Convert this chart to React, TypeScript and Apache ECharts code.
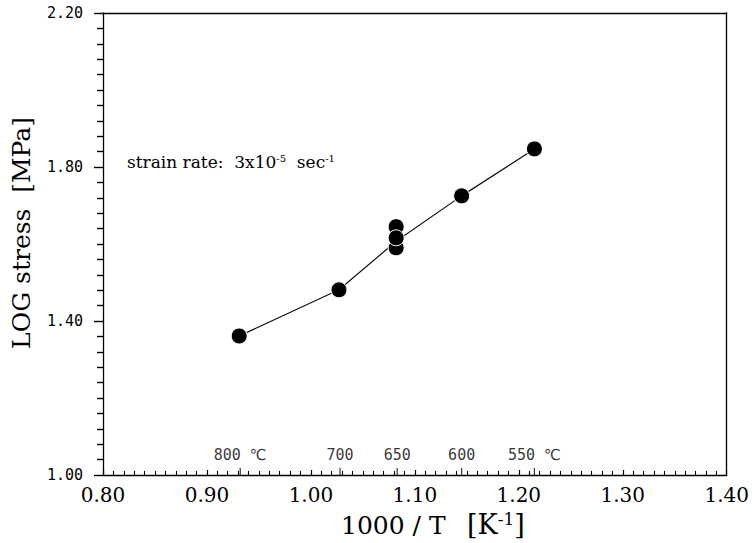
import React, { useEffect, useRef } from 'react';
import * as echarts from 'echarts';

// measured data points (1000/T, log stress)
const pointX = [0.931, 1.027, 1.082, 1.082, 1.082, 1.145, 1.215];
const pointY = [1.361, 1.481, 1.645, 1.59, 1.616, 1.725, 1.847];
// connecting curve vertices
const lineX = [0.931, 1.027, 1.082, 1.145, 1.215];
const lineY = [1.361, 1.481, 1.607, 1.725, 1.847];
// temperature markers along the x axis
const tempX = [0.932, 1.028, 1.083, 1.145, 1.215];
const tempLabels = ['800 ℃', '700', '650', '600', '550 ℃'];

// axis ranges: labelled step and minor tick splits
const X_MIN = 0.8, X_MAX = 1.4, X_STEP = 0.1;
const Y_MIN = 1.0, Y_MAX = 2.2, Y_STEP = 0.4;
const MINOR_SPLITS = 10;

const SERIF = '"DejaVu Serif", "Liberation Serif", serif';
const MONO = '"DejaVu Sans Mono", "Liberation Mono", "DejaVu Sans", monospace';

export default function App() {
  const ref = useRef<HTMLDivElement>(null);
  useEffect(() => {
    if (!ref.current) return;
    const chart = echarts.init(ref.current, undefined, { renderer: 'svg' });
    const border = () => ({ show: true, lineStyle: { color: '#000', width: 1.3 } });
    chart.setOption({
      animation: false,
      backgroundColor: '#fff',
      grid: { left: 103, right: 25, top: 13, bottom: 68 },
      xAxis: [
        {
          type: 'value', min: X_MIN, max: X_MAX, interval: X_STEP,
          axisLine: border(),
          axisTick: { show: true, inside: true, length: 5, lineStyle: { color: '#000', width: 1.2 } },
          minorTick: { show: true, splitNumber: MINOR_SPLITS, length: 4, lineStyle: { color: '#000', width: 1.1 } },
          splitLine: { show: false },
          axisLabel: {
            fontFamily: SERIF, fontSize: 20, color: '#000', margin: 10,
            formatter: (v: number) => v.toFixed(2),
          },
        },
        {
          type: 'value', min: X_MIN, max: X_MAX, position: 'top',
          axisLine: border(), axisTick: { show: false }, axisLabel: { show: false },
          splitLine: { show: false },
        },
      ],
      yAxis: [
        {
          type: 'value', min: Y_MIN, max: Y_MAX, interval: Y_STEP,
          axisLine: border(),
          axisTick: { show: true, length: 9, lineStyle: { color: '#000', width: 1.4 } },
          minorTick: { show: true, splitNumber: MINOR_SPLITS, length: 6, lineStyle: { color: '#000', width: 1.4 } },
          splitLine: { show: false },
          axisLabel: {
            fontFamily: MONO, fontSize: 15, color: '#000', margin: 20,
            formatter: (v: number) => v.toFixed(2),
          },
        },
        {
          type: 'value', min: Y_MIN, max: Y_MAX, position: 'right',
          axisLine: border(), axisTick: { show: false }, axisLabel: { show: false },
          splitLine: { show: false },
        },
      ],
      series: [
        {
          type: 'line',
          data: lineX.map((x, i) => [x, lineY[i]]),
          symbol: 'none',
          lineStyle: { color: '#111', width: 1.2 },
          z: 2,
          silent: true,
        },
        {
          type: 'scatter',
          data: pointX.map((x, i) => [x, pointY[i]]),
          symbol: 'circle',
          symbolSize: 16,
          itemStyle: { color: '#000', borderColor: '#fff', borderWidth: 1, opacity: 1 },
          z: 3,
          silent: true,
        },
        {
          type: 'scatter',
          data: tempX.map((x, i) => ({ name: tempLabels[i], value: [x, Y_MIN] })),
          symbol: 'rect',
          symbolSize: [1.2, 7],
          symbolOffset: [0, -3.5],
          itemStyle: { color: '#000' },
          label: {
            show: true, position: 'top', distance: 6, formatter: '{b}',
            fontFamily: MONO, fontSize: 15, color: '#000',
          },
          clip: false,
          z: 4,
          silent: true,
        },
      ],
      graphic: [
        {
          type: 'text', x: 21, y: 233, rotation: Math.PI / 2,
          style: {
            text: 'LOG stress  [MPa]', fontFamily: SERIF, fontSize: 25, fill: '#000',
            align: 'center', verticalAlign: 'middle',
          },
        },
        {
          type: 'text', x: 341, y: 525,
          style: {
            text: '1000 / T', fontFamily: SERIF, fontSize: 25, fill: '#000',
            align: 'left', verticalAlign: 'middle',
          },
        },
        {
          type: 'text', x: 467, y: 524,
          style: {
            text: '[K{sup|-1}]', fontFamily: SERIF, fontSize: 27, fill: '#000',
            align: 'left', verticalAlign: 'middle',
            rich: { sup: { fontFamily: SERIF, fontSize: 17, fill: '#000', verticalAlign: 'top' } },
          },
        },
        {
          type: 'text', x: 127, y: 162,
          style: {
            text: 'strain rate:  3x10{sup|-5}  sec{sup|-1}', fontFamily: SERIF, fontSize: 17, fill: '#000',
            align: 'left', verticalAlign: 'middle',
            rich: { sup: { fontFamily: SERIF, fontSize: 10, fill: '#000', verticalAlign: 'top' } },
          },
        },
      ],
    });
    return () => chart.dispose();
  }, []);
  return (
    <div
      ref={ref}
      style={{ position: 'fixed', left: 0, top: 0, width: 752, height: 543, background: '#fff' }}
    />
  );
}
